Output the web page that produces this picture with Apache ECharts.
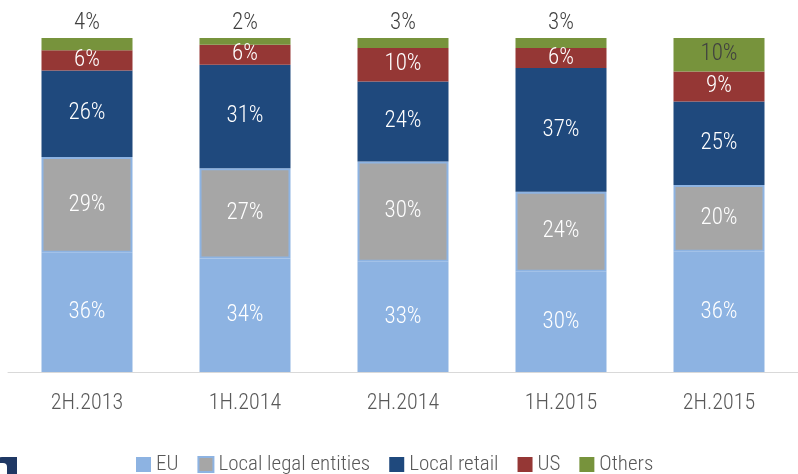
<!DOCTYPE html>
<html>
<head>
<meta charset="utf-8">
<script src="https://cdn.jsdelivr.net/npm/echarts@6/dist/echarts.min.js"></script>
<style>html,body{margin:0;padding:0;background:#fff;}#c{width:798px;height:474px;}</style>
</head>
<body>
<div id="c"></div>
<script>
var categories = ['2H.2013', '1H.2014', '2H.2014', '1H.2015', '2H.2015'];
var seriesNames = ['EU', 'Local legal entities', 'Local retail', 'US', 'Others'];
var euValues = [35.7, 34, 33, 30, 36];
var legalValues = [28.7, 27, 30, 24, 20];
var retailValues = [25.9, 31, 24, 37, 25];
var usValues = [6, 6, 10, 6, 9];
var othersValues = [3.7, 2, 3, 3, 10];

var FONT = "'Roboto Condensed', 'DejaVu Sans Condensed', sans-serif";
var chart = echarts.init(document.getElementById('c'), null, {renderer: 'canvas'});

function pct(p) { return Math.round(p.value) + '%'; }
function mk(name, data, color, extra) {
  var s = {
    name: name, type: 'bar', stack: 'total', barWidth: 91,
    data: data,
    itemStyle: {color: color},
    label: {show: true, position: 'inside', color: '#ffffff', fontFamily: FONT, fontWeight: 300, fontSize: 23, formatter: pct},
    emphasis: {disabled: true}
  };
  if (extra) extra(s);
  return s;
}

var option = {
  animation: false,
  backgroundColor: '#ffffff',
  grid: {left: 8, top: 38, width: 800, height: 334, containLabel: false},
  xAxis: {
    type: 'category', data: categories,
    axisLine: {lineStyle: {color: '#d9d9d9', width: 1}},
    axisTick: {show: false},
    axisLabel: {color: '#595959', fontFamily: FONT, fontWeight: 300, fontSize: 22, margin: 20}
  },
  yAxis: {type: 'value', min: 0, max: 100, show: false, splitLine: {show: false}},
  legend: {
    left: 131, top: 449, itemWidth: 15, itemHeight: 15, itemGap: 19,
    icon: 'rect',
    textStyle: {color: '#595959', fontFamily: FONT, fontWeight: 300, fontSize: 21},
    data: seriesNames
  },
  series: [
    mk('EU', euValues, '#8db3e2'),
    mk('Local legal entities', legalValues, '#a6a6a6', function (s) {
      s.itemStyle.borderColor = '#8db3e2';
      s.itemStyle.borderWidth = 2;
    }),
    mk('Local retail', retailValues, '#1f497d'),
    mk('US', usValues, '#953735'),
    mk('Others', othersValues.map(function (v) {
      return v < 5 ? {value: v, label: {position: 'top', distance: 0, offset: [0, -3]}} : v;
    }), '#77933c', function (s) { s.label.color = '#404040'; })
  ],
  graphic: [
    {type: 'rect', shape: {x: -4, y: 457, width: 21, height: 20, r: [6, 0, 0, 0]}, style: {fill: '#1f3864'}},
    {type: 'rect', shape: {x: -4, y: 463, width: 11, height: 14, r: [4, 4, 0, 0]}, style: {fill: '#ffffff'}}
  ]
};
chart.setOption(option);
</script>
</body>
</html>
